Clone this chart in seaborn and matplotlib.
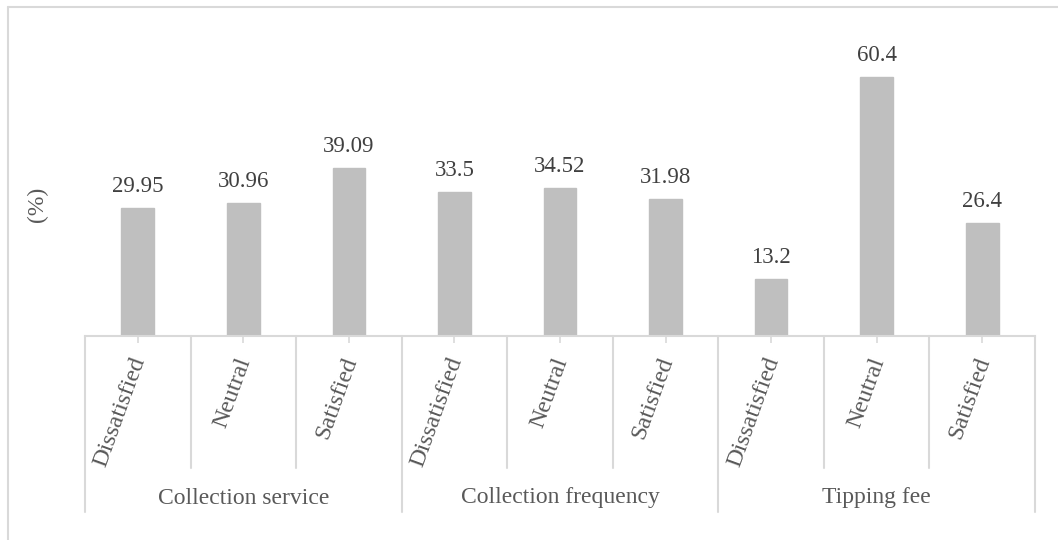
import matplotlib
matplotlib.use("Agg")
import matplotlib.pyplot as plt
from matplotlib.lines import Line2D
import matplotlib.transforms as mtransforms
import seaborn as sns
import pandas as pd

groups = ["Collection service", "Collection frequency", "Tipping fee"]
levels = ["Dissatisfied", "Neutral", "Satisfied"]
collection_service = [29.95, 30.96, 39.09]
collection_frequency = [33.5, 34.52, 31.98]
tipping_fee = [13.2, 60.4, 26.4]
value_labels = ["29.95", "30.96", "39.09", "33.5", "34.52", "31.98", "13.2", "60.4", "26.4"]
ylabel = "(%)"

sns.set_theme(style="white")
plt.rcParams["font.family"] = ["Liberation Serif", "DejaVu Serif"]

rows = []
for g, vals in zip(groups, [collection_service, collection_frequency, tipping_fee]):
    for lv, v in zip(levels, vals):
        rows.append({"key": f"{g}|{lv}", "group": g, "level": lv, "value": v})
df = pd.DataFrame(rows)
order = list(df["key"])

W, H = 1058, 540
fig = plt.figure(figsize=(W / 100, H / 100), dpi=100)
ax = fig.add_axes([85 / W, 204 / H, 950 / W, 300 / H])

sns.barplot(data=df, x="key", y="value", order=order, color="#bfbfbf",
            width=0.31, saturation=1, ax=ax, edgecolor="#bfbfbf")

ax.set_ylim(0, 70)
ax.set_xlim(-0.5, len(order) - 0.5)
for s in ["left", "right", "top"]:
    ax.spines[s].set_visible(False)
ax.spines["bottom"].set_color("#d9d9d9")
ax.spines["bottom"].set_linewidth(1.5)
ax.set_yticks([])
ax.set_xlabel("")
ax.set_xticks(range(len(order)))
ax.set_xticklabels([])
ax.tick_params(axis="x", length=5, width=1.2, color="#d9d9d9", bottom=True)

# value labels
ax.bar_label(ax.containers[0], labels=value_labels, padding=8,
             fontsize=16.5, color="#404040")

# y label
ax.set_ylabel(ylabel, fontsize=17, color="#595959")
ax.yaxis.label.set_va("center")
ax.yaxis.set_label_coords((37 - 85) / 950, (336 - 204) / 300)

trans = mtransforms.blended_transform_factory(ax.transData, ax.transAxes)
# sub-category labels
for i, row in df.iterrows():
    ax.text(i + 0.02, -(358 - 336) / 300, row["level"], transform=trans, rotation=70,
            rotation_mode="anchor", ha="right", va="center",
            fontsize=17.5, color="#595959")

# separators
inner_y = -(468 - 336) / 300
outer_y = -(512 - 336) / 300
for b in range(len(order) + 1):
    x = b - 0.5
    y1 = outer_y if b % 3 == 0 else inner_y
    ax.add_line(Line2D([x, x], [0, y1], transform=trans, color="#d9d9d9",
                       lw=1.5, clip_on=False))

# group labels
for gi, g in enumerate(groups):
    ax.text(gi * 3 + 1, -(498 - 336) / 300, g, transform=trans, ha="center",
            va="center", fontsize=17, color="#595959")

# chart border (top and left visible)
fig.add_artist(Line2D([7.5 / W, 1.01], [1 - 6.5 / H, 1 - 6.5 / H],
                      transform=fig.transFigure, color="#d9d9d9", lw=1.5))
fig.add_artist(Line2D([7.5 / W, 7.5 / W], [1 - 6.5 / H, -0.01],
                      transform=fig.transFigure, color="#d9d9d9", lw=1.5))

fig.savefig("out.png", dpi=100, facecolor="white")
